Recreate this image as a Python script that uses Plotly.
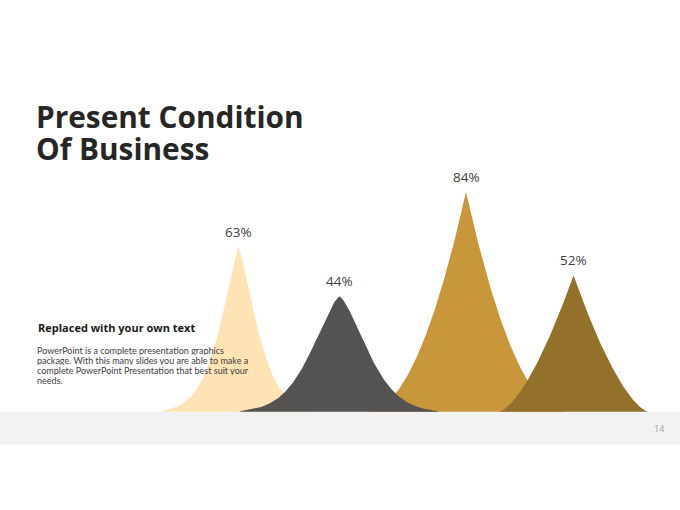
import numpy as np
import plotly.graph_objects as go

# ---- data ----
labels = ["63%", "44%", "84%", "52%"]
values = [63, 44, 84, 52]
title_lines = ["Present Condition", "Of Business"]
sub_title = "Replaced with your own text"
body_lines = [
    "PowerPoint is a complete presentation graphics",
    "package. With this many slides you are able to make a",
    "complete PowerPoint Presentation that best suit your",
    "needs.",
]
page_no = "14"

# ---- style / layout constants ----
peak_pos = [2.385, 3.395, 4.66, 5.735]          # x-axis units
colors = ["#FEE3B4", "#545352", "#C8973B", "#93712B"]
# profile: f(d) = exp(-(d/s)^q) * (1 - d/w)^r
profiles = [
    dict(s=0.286, q=1.38, w=0.78, r=0.4),
    dict(s=0.418, q=1.60, w=1.00, r=0.3),
    dict(s=None, q=1.0, w=1.00, r=2.05),
    dict(s=None, q=1.0, w=0.75, r=1.55),
]
draw_order = [0, 2, 3, 1]
W, H = 680, 510
PX_PER_UNIT = 2.62
BASE_FROM_TOP = 411.7

fig = go.Figure()


def profile(d, s, q, w, r):
    f = (1 - d / w) ** r
    if s is not None:
        f = f * np.exp(-((d / s) ** q))
    return f


for i in draw_order:
    p = profiles[i]
    d = np.linspace(0, p["w"], 300)
    f = profile(d, **p)
    h = values[i]
    xs = np.concatenate([peak_pos[i] - d[::-1], peak_pos[i] + d[1:]])
    ys = np.concatenate([h * f[::-1], h * f[1:]])
    fig.add_trace(go.Scatter(x=xs, y=ys, mode="lines", fill="toself",
                             fillcolor=colors[i], line=dict(width=0, color=colors[i]),
                             hoverinfo="skip", showlegend=False))

for i in range(len(values)):
    fig.add_annotation(x=peak_pos[i], y=values[i], text=labels[i], showarrow=False,
                       xanchor="center", yanchor="bottom", yshift=4,
                       font=dict(family="Open Sans", size=13.5, color="#404040"))


def py(px_from_top):
    return 1 - px_from_top / H


# title (explicit box height so the two line boxes do not overlap)
for line, yc in zip(title_lines, [116.5, 147.5]):
    fig.add_annotation(xref="paper", yref="paper", x=35 / W, y=py(yc), text=line,
                       showarrow=False, xanchor="left", yanchor="middle",
                       height=30, valign="middle", borderpad=0,
                       font=dict(family="Open Sans", size=29.8, color="#262626", weight="bold"))

fig.add_annotation(xref="paper", yref="paper", x=36 / W, y=py(327), text=sub_title,
                   showarrow=False, xanchor="left", yanchor="middle",
                   font=dict(family="Open Sans", size=11, color="#1a1a1a", weight="bold"))

for line, yc in zip(body_lines, [349.5, 359.8, 370.1, 380.4]):
    fig.add_annotation(xref="paper", yref="paper", x=36 / W, y=py(yc), text=line,
                       showarrow=False, xanchor="left", yanchor="middle",
                       height=10, valign="middle", borderpad=0,
                       font=dict(family="Lato", size=9, color="#404040"))

fig.add_annotation(xref="paper", yref="paper", x=659 / W, y=py(428), text=page_no,
                   showarrow=False, xanchor="center", yanchor="middle",
                   font=dict(family="Open Sans", size=9, color="#a6a6a6"))

# grey footer band
fig.add_shape(type="rect", xref="paper", yref="paper", x0=0, x1=1,
              y0=py(444.5), y1=py(BASE_FROM_TOP), fillcolor="#F2F2F2",
              line=dict(width=0), layer="below")

ymin = -(H - BASE_FROM_TOP) / PX_PER_UNIT
ymax = BASE_FROM_TOP / PX_PER_UNIT
fig.update_layout(
    width=W, height=H, margin=dict(l=0, r=0, t=0, b=0),
    paper_bgcolor="white", plot_bgcolor="white",
    xaxis=dict(range=[0, W / 100], visible=False, fixedrange=True),
    yaxis=dict(range=[ymin, ymax], visible=False, fixedrange=True),
    showlegend=False,
)

fig.write_html("out.html", config={"displayModeBar": False},
               post_script="document.body.style.margin='0';document.body.style.overflow='hidden';")
